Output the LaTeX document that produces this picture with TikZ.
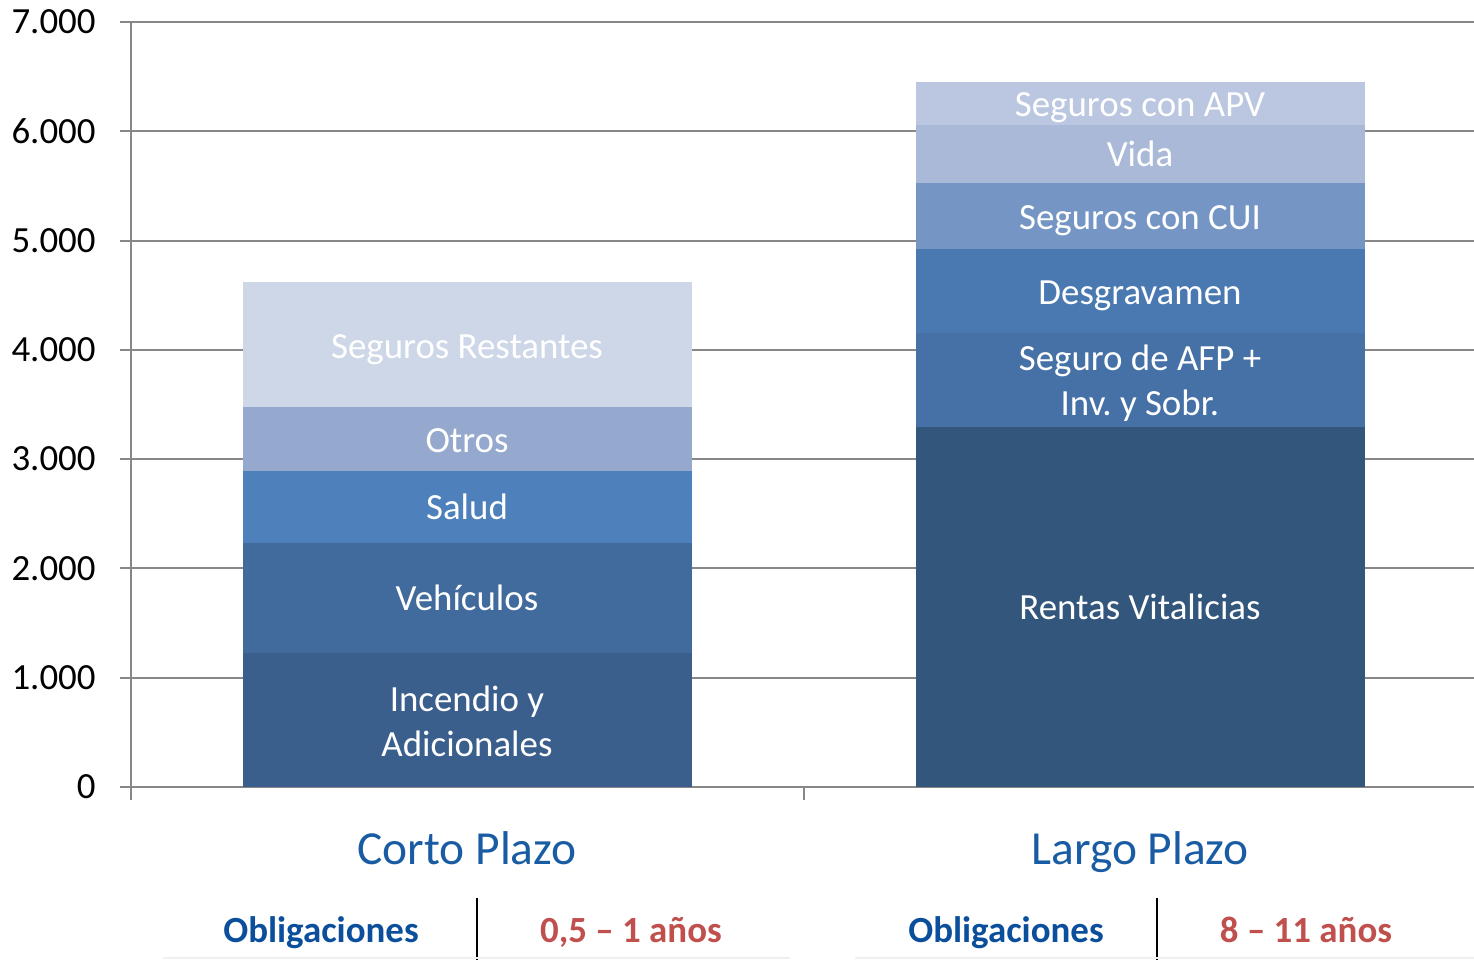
\documentclass[tikz,border=0pt]{standalone}
\usepackage{fontspec}
\setmainfont{Carlito}
\usetikzlibrary{positioning}

\definecolor{gridgray}{HTML}{878787}
\definecolor{catblue}{HTML}{1A5CA3}
\definecolor{obblue}{HTML}{0B4F9C}
\definecolor{obred}{HTML}{C0504D}
\definecolor{incendio}{HTML}{3B5F8C}
\definecolor{vehic}{HTML}{416B9C}
\definecolor{salud}{HTML}{4E80BC}
\definecolor{otros}{HTML}{95A9CF}
\definecolor{restantes}{HTML}{CED7E8}
\definecolor{rentas}{HTML}{33567D}
\definecolor{afp}{HTML}{4571A6}
\definecolor{desgrav}{HTML}{4A79B2}
\definecolor{cui}{HTML}{7596C5}
\definecolor{vida}{HTML}{AAB9D7}
\definecolor{apv}{HTML}{BBC7E1}

\tikzset{
  gridline/.style={draw=gridgray, line width=1.1pt},
  oneline/.style={text height=14.5pt, text depth=0pt},
  ticklabel/.style={anchor=east, inner sep=0pt, font=\fontsize{21}{25}\selectfont},
  barlabel/.style={text=white, align=center, inner sep=0pt, font=\fontsize{21}{25.6}\selectfont},
  catlabel/.style={text height=18.7pt, text depth=0pt, text=catblue, inner sep=0pt, font=\fontsize{27}{32}\selectfont},
  oblabel/.style={oneline, text=obblue, inner sep=0pt, font=\fontsize{21}{25}\selectfont\bfseries},
  yrlabel/.style={oneline, text=obred, inner sep=0pt, font=\fontsize{21}{25}\selectfont\bfseries},
}

\begin{document}
\begin{tikzpicture}[x=0.02cm,y=-0.02cm]
\useasboundingbox (0,0) rectangle (1474,960);

% grid and axis
\foreach \gy in {22,131.3,240.6,349.9,459.1,568.4,677.7,787}
  \draw[gridline] (120,\gy) -- (1474,\gy);
\draw[gridline] (131,22) -- (131,800);
\draw[gridline] (804,787) -- (804,800);

\node[ticklabel] at (96,22) (y7) {7.000};
\node[ticklabel] at (96,131.3) (y6) {6.000};
\node[ticklabel] at (96,240.6) (y5) {5.000};
\node[ticklabel] at (96,349.9) (y4) {4.000};
\node[ticklabel] at (96,459.1) (y3) {3.000};
\node[ticklabel] at (96,568.4) (y2) {2.000};
\node[ticklabel] at (96,677.7) (y1) {1.000};
\node[ticklabel] at (96,787) (y0) {0};

% corto plazo
\fill[incendio] (243,653) rectangle (692,787);
\fill[vehic] (243,543) rectangle (692,653);
\fill[salud] (243,471) rectangle (692,543);
\fill[otros] (243,407) rectangle (692,471);
\fill[restantes] (243,282) rectangle (692,407);

\node[barlabel] at (467,721) (l1) {Incendio y\\Adicionales};
\node[barlabel, oneline] at (467,598) (l2) {Vehículos};
\node[barlabel, oneline] at (467,507) (l3) {Salud};
\node[barlabel, oneline] at (467,440) (l4) {Otros};
\node[barlabel, oneline] at (467,346) (l5) {Seguros Restantes};

% largo plazo
\fill[rentas] (916,427) rectangle (1365,787);
\fill[afp] (916,333) rectangle (1365,427);
\fill[desgrav] (916,249) rectangle (1365,333);
\fill[cui] (916,183) rectangle (1365,249);
\fill[vida] (916,125) rectangle (1365,183);
\fill[apv] (916,82) rectangle (1365,125);

\node[barlabel, oneline] at (1140,607) (r1) {Rentas Vitalicias};
\node[barlabel] at (1140,383.5) (r2) {Seguro de AFP +\\Inv.\ y Sobr.};
\node[barlabel, oneline] at (1140,292) (r3) {Desgravamen};
\node[barlabel, oneline] at (1140,217) (r4) {Seguros con CUI};
\node[barlabel, oneline] at (1140,154) (r5) {Vida};
\node[barlabel, oneline] at (1140,104) (r6) {Seguros con APV};

\node[catlabel] at (467,848) (c1) {Corto Plazo};
\node[catlabel] at (1140,848) (c2) {Largo Plazo};

% obligaciones
\node[oblabel] at (321,930) (o1) {Obligaciones};
\node[yrlabel] at (631,930) (a1) {0,5 – 1 años};
\node[oblabel] at (1006,930) (o2) {Obligaciones};
\node[yrlabel] at (1306,930) (a2) {8 – 11 años};

\draw[line width=1.4pt] (477,898) -- (477,960);
\draw[line width=1.4pt] (1157,898) -- (1157,960);
\draw[black!6, line width=1pt] (163,958) -- (790,958);
\draw[black!6, line width=1pt] (855,958) -- (1474,958);

\end{tikzpicture}
\end{document}
